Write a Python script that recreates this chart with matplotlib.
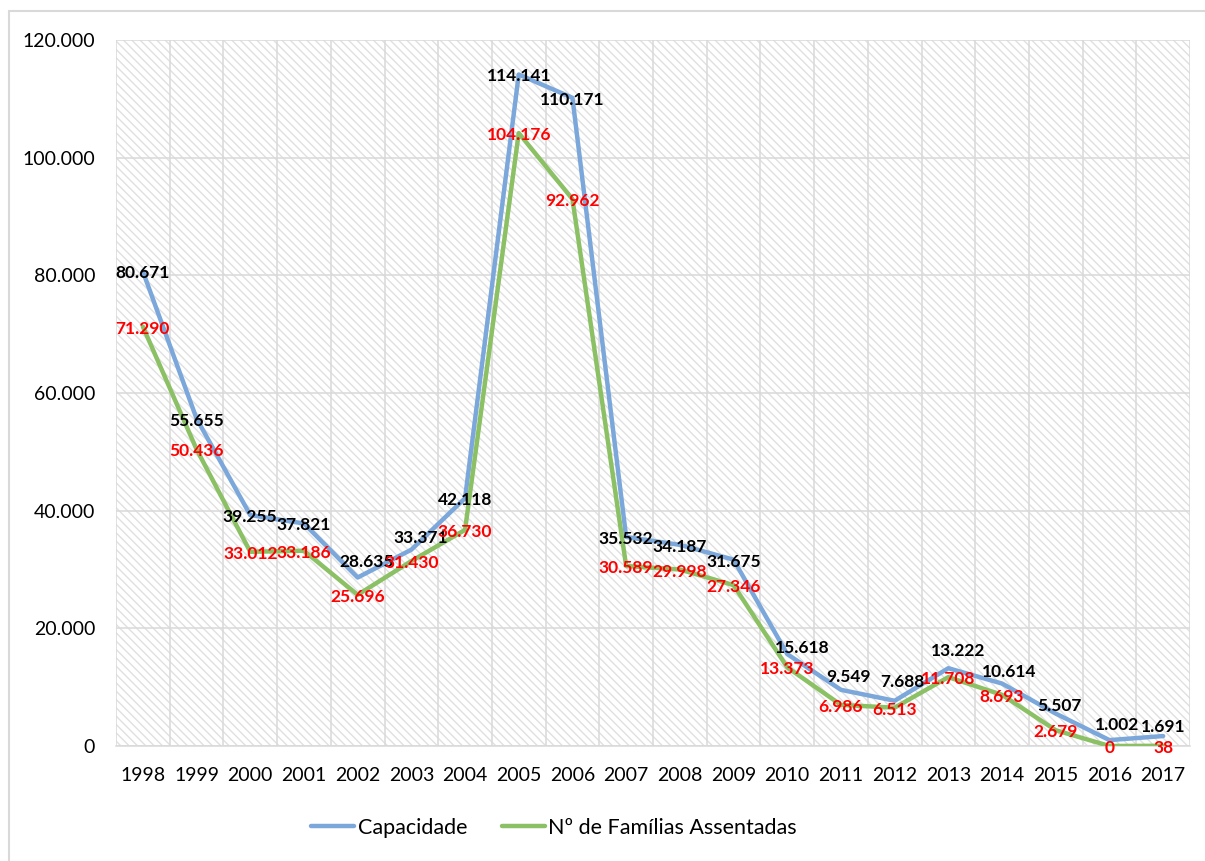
# Import libraries
import matplotlib.pyplot as plt
from matplotlib.patches import Rectangle
from matplotlib.ticker import FuncFormatter

plt.rcParams.update({
    "font.family": ["Lato", "DejaVu Sans"],
    "hatch.linewidth": 1.0,
})

# Data
years = ["1998", "1999", "2000", "2001", "2002", "2003", "2004", "2005", "2006", "2007",
         "2008", "2009", "2010", "2011", "2012", "2013", "2014", "2015", "2016", "2017"]
capacidade = [80671, 55655, 39255, 37821, 28635, 33371, 42118, 114141, 110171, 35532,
              34187, 31675, 15618, 9549, 7688, 13222, 10614, 5507, 1002, 1691]
familias = [71290, 50436, 33012, 33186, 25696, 31430, 36730, 104176, 92962, 30589,
            29998, 27346, 13373, 6986, 6513, 11708, 8693, 2679, 0, 38]
y_ticks = [0, 20000, 40000, 60000, 80000, 100000, 120000]

# Colors
blue = "#7BA7DA"
green = "#8BC064"
grid_color = "#d9d9d9"

# label nudges in pixels (dx, dy up), like the hand-moved labels in the original
cap_nudge = {4: (9, 16), 5: (9, 12), 12: (15, 6), 13: (8, 13), 14: (8, 19),
             15: (10, 17), 16: (7, 12), 17: (4, 8), 18: (8, 15), 19: (0, 9)}
px = 0.72  # pixels -> points at dpi 100


def thousands(v, pos=None):
    return f"{int(v):,}".replace(",", ".")


fig = plt.figure(figsize=(12.05, 8.61), dpi=100)
ax = fig.add_axes([116 / 1205, 1 - 746 / 861, (1190 - 116) / 1205, (746 - 40) / 861])

# hatched plot background
ax.patch.set_facecolor("white")
ax.patch.set_edgecolor("#e0e0e0")
ax.patch.set_hatch("\\\\\\\\")
ax.patch.set_linewidth(0)

x = list(range(len(years)))
ax.plot(x, capacidade, color=blue, lw=3.2, solid_joinstyle="round",
        solid_capstyle="round", zorder=3, label="Capacidade")
ax.plot(x, familias, color=green, lw=3.2, solid_joinstyle="round",
        solid_capstyle="round", zorder=3, label="Nº de Famílias Assentadas")

for i, v in enumerate(capacidade):
    dx, dy = cap_nudge.get(i, (0, -2))
    ax.annotate(thousands(v), (i, v), xytext=(dx * px, dy * px), textcoords="offset points",
                ha="center", va="center", fontsize=12.5, fontweight="bold",
                color="black", zorder=4)
for i, v in enumerate(familias):
    ax.annotate(thousands(v), (i, v), xytext=(0, -2 * px), textcoords="offset points",
                ha="center", va="center", fontsize=12.5, fontweight="bold",
                color="#FF0000", zorder=4)

# axes
ax.set_xlim(-0.5, len(years) - 0.5)
ax.set_ylim(0, 120000)
ax.set_xticks(x)
ax.set_xticklabels(years)
ax.set_xticks([i - 0.5 for i in range(len(years) + 1)], minor=True)
ax.set_yticks(y_ticks)
ax.yaxis.set_major_formatter(FuncFormatter(thousands))
ax.tick_params(axis="both", which="both", length=0, labelsize=14)
ax.tick_params(axis="x", pad=15)
ax.tick_params(axis="y", pad=15)
ax.set_axisbelow(True)
ax.grid(True, axis="y", which="major", color=grid_color, lw=1.1)
ax.grid(True, axis="x", which="minor", color=grid_color, lw=1.1)
for s in ["top", "left", "right"]:
    ax.spines[s].set_visible(False)
ax.spines["bottom"].set_color(grid_color)
ax.spines["bottom"].set_linewidth(1.1)

# legend
fig.legend(loc="center", bbox_to_anchor=(554 / 1205, 1 - 828 / 861), ncol=2,
           frameon=False, fontsize=15.5, handlelength=2.0, handletextpad=0.15,
           columnspacing=1.6)

# chart border
fig.add_artist(Rectangle((8.5 / 1205, -0.02), 1.05, 1 - 10.5 / 861 + 0.02,
                         transform=fig.transFigure, fill=False,
                         edgecolor=grid_color, lw=1.5))

fig.savefig("out.png", dpi=100)
